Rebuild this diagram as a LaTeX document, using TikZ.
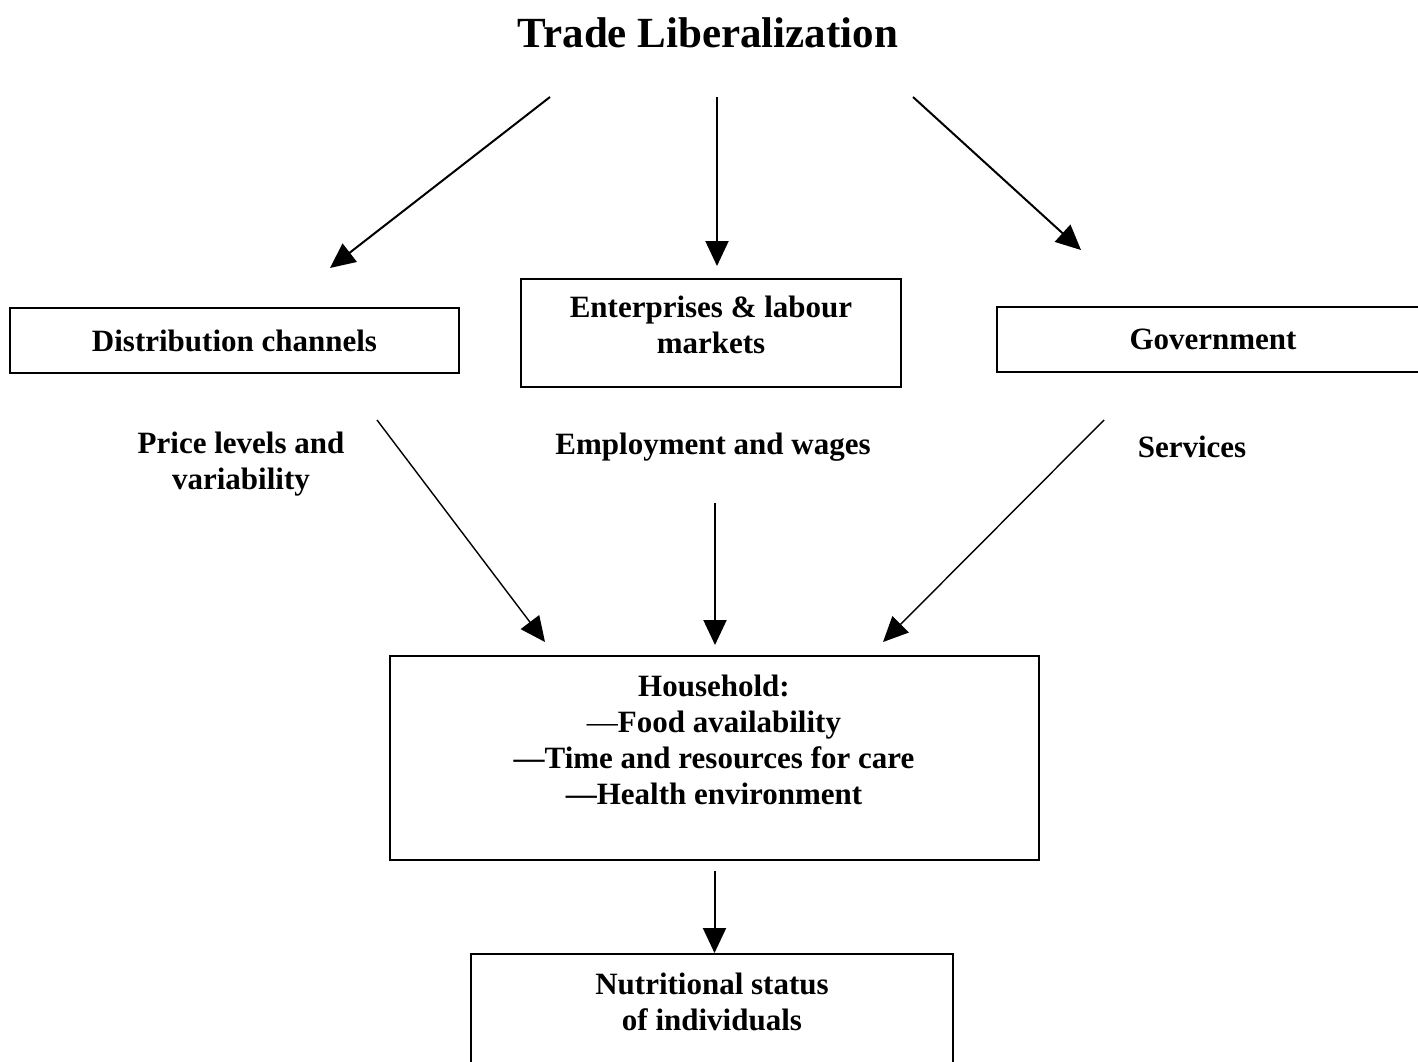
\documentclass[tikz,border=0pt]{standalone}
\usepackage{fontspec}
\setmainfont{Liberation Serif}
\usetikzlibrary{arrows.meta}

\begin{document}
\begin{tikzpicture}[x=0.5pt,y=-0.5pt,
box/.style={draw,line width=1pt,inner sep=0pt},
thinbox/.style={box,line width=0.7pt},
lbl/.style={font=\fontsize{15.5}{18}\selectfont\bfseries,align=center},
arr/.style={line width=1pt,-{Triangle[length=12.5pt,width=11.5pt]}},
thinarr/.style={arr,line width=0.7pt}]
\useasboundingbox (0,0) rectangle (1418,1061);
\clip (0,0) rectangle (1418,1061);

\node[font=\fontsize{21.5}{24}\selectfont\bfseries] (title) at (708,33) {Trade Liberalization};

% middle row
\node[thinbox,minimum width=224.5pt,minimum height=32.5pt,lbl] (dist) at (234.5,340.5) {Distribution channels};
\node[box,minimum width=190pt,minimum height=54pt] (ent) at (711,333) {};
\node[lbl] (enttext) at (711,325) {Enterprises \& labour\\markets};
\node[thinbox,minimum width=216pt,minimum height=32.5pt,lbl] (gov) at (1213,339.5) {Government};

\node[lbl] (price) at (241,464) {Price levels and\\variability};
\node[lbl] (emp) at (713,447) {Employment and wages};
\node[lbl] (serv) at (1192,447) {Services};

% bottom
\node[box,minimum width=324.5pt,minimum height=102pt] (hh) at (714.5,758) {};
\node[lbl,anchor=north] (hhtext) at (714,668) {Household:\\{\mdseries ---}Food availability\\---Time and resources for care\\---Health environment};
\node[box,minimum width=241pt,minimum height=60pt] (nut) at (712,1014) {};
\node[lbl,anchor=north] (nuttext) at (712,966) {Nutritional status\\of individuals};

% arrows
\coordinate (tl) at (550,97);
\coordinate (tm) at (717,97);
\coordinate (tr) at (913,97);
\coordinate (dl) at (330,268);
\coordinate (dm) at (717,266);
\coordinate (dr) at (1081,250);
\draw[arr] (tl) -- (dl);
\draw[arr] (tm) -- (dm);
\draw[arr] (tr) -- (dr);

\coordinate (pl) at (377,420);
\coordinate (pm) at (715,503);
\coordinate (pr) at (1104,420);
\coordinate (hl) at (545,642);
\coordinate (hm) at (715,645);
\coordinate (hr) at (883,642);
\draw[thinarr] (pl) -- (hl);
\draw[arr] (pm) -- (hm);
\draw[thinarr] (pr) -- (hr);

\draw[arr] ([yshift=-5pt]hh.south) -- (hh.south |- nut.north);
\end{tikzpicture}
\end{document}
